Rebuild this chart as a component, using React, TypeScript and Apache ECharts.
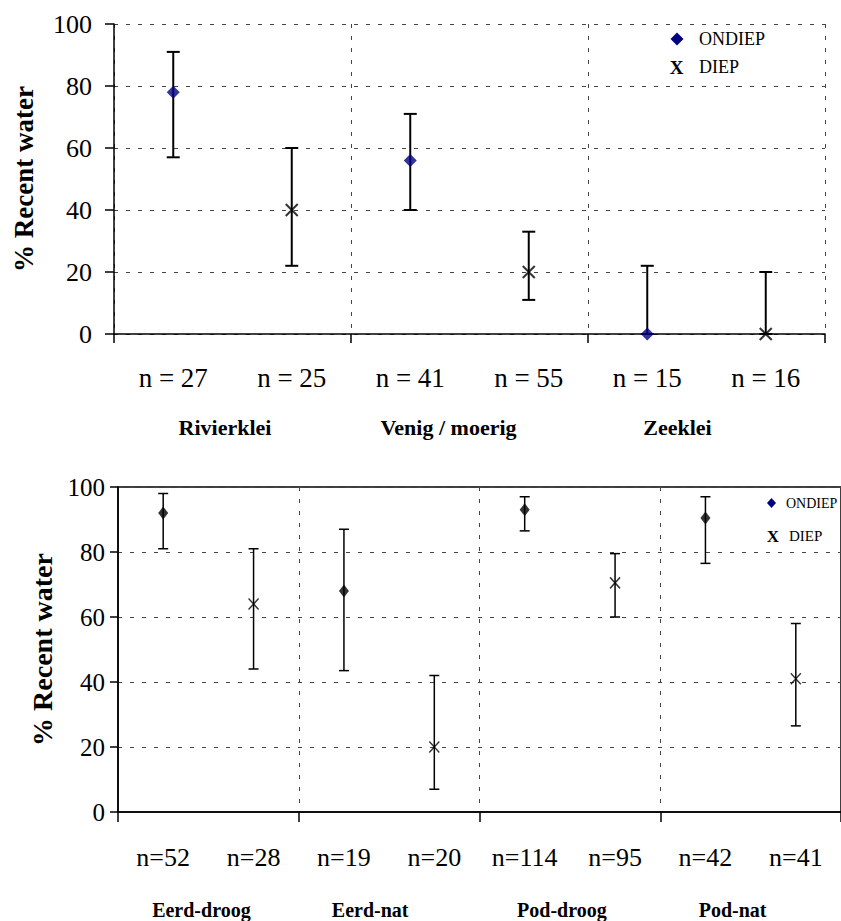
import React, { useEffect, useRef } from 'react';
import * as echarts from 'echarts';

// Upper panel: soil groups, shallow (ONDIEP) vs deep (DIEP) samples
const topGroups = ['Rivierklei', 'Venig / moerig', 'Zeeklei'];
const topCounts = ['n = 27', 'n = 25', 'n = 41', 'n = 55', 'n = 15', 'n = 16'];
const topOndiepMean = [78, 56, 0];
const topOndiepLow = [57, 40, 0];
const topOndiepHigh = [91, 71, 22];
const topDiepMean = [40, 20, 0];
const topDiepLow = [22, 11, 0];
const topDiepHigh = [60, 33, 20];

// Lower panel: Eerd / Pod soils, dry vs wet
const bottomGroups = ['Eerd-droog', 'Eerd-nat', 'Pod-droog', 'Pod-nat'];
const bottomCounts = ['n=52', 'n=28', 'n=19', 'n=20', 'n=114', 'n=95', 'n=42', 'n=41'];
const bottomOndiepMean = [92, 68, 93, 90.5];
const bottomOndiepLow = [81, 43.5, 86.5, 76.5];
const bottomOndiepHigh = [98, 87, 97, 97];
const bottomDiepMean = [64, 20, 70.5, 41];
const bottomDiepLow = [44, 7, 60, 26.5];
const bottomDiepHigh = [81, 42, 79.5, 58];

const yMin = 0;
const yMax = 100;
const yStep = 20;

const SERIF = 'Liberation Serif';
const NAVY = '#000080';
const X_PATH = 'path://M0,0L10,10M10,0L0,10';

// group captions sit a little left of their group centre
const topCaptionShift = [15, 42, 58];
const bottomCaptionShift = [14, 38, 16, 36];

// ONDIEP sits on the even categories, DIEP on the odd ones
const points = (counts: string[], means: number[], offset: number) =>
  means.map((m, i) => [counts[2 * i + offset], m]);
const ranges = (counts: string[], low: number[], high: number[], offset: number) =>
  low.map((lo, i) => [counts[2 * i + offset], lo, high[i]]);

const errorBars = (capHalf: number, width: number) => (params: any, api: any) => {
  const x = api.value(0);
  const lo = api.coord([x, api.value(1)]);
  const hi = api.coord([x, api.value(2)]);
  const style = { stroke: '#000', lineWidth: width };
  return {
    type: 'group',
    children: [
      { type: 'line', shape: { x1: lo[0], y1: lo[1], x2: hi[0], y2: hi[1] }, style },
      { type: 'line', shape: { x1: hi[0] - capHalf, y1: hi[1], x2: hi[0] + capHalf, y2: hi[1] }, style },
      { type: 'line', shape: { x1: lo[0] - capHalf, y1: lo[1], x2: lo[0] + capHalf, y2: lo[1] }, style },
    ],
  };
};

const dashed = { color: '#444', type: [4, 8] as any, width: 1 };

function countAxis(gridIndex: number, data: string[], margin: number, fontSize: number) {
  return {
    gridIndex,
    type: 'category',
    position: 'bottom',
    data,
    boundaryGap: true,
    axisLine: { show: false },
    axisTick: { show: false },
    splitLine: { show: false },
    axisLabel: { interval: 0, margin, fontSize, color: '#000', fontFamily: SERIF },
  };
}

function groupAxis(
  gridIndex: number,
  data: string[],
  shifts: number[],
  margin: number,
  fontSize: number,
  tickLen: number,
) {
  return {
    gridIndex,
    type: 'category',
    position: 'bottom',
    data: data.map((g, i) => ({ value: g, textStyle: { padding: [0, shifts[i], 0, 0] } })),
    boundaryGap: true,
    axisLine: { show: true, onZero: false, lineStyle: { color: '#000', width: 1.5 } },
    axisTick: { show: true, length: tickLen, lineStyle: { color: '#000', width: 1.5 } },
    splitLine: { show: true, lineStyle: dashed },
    axisLabel: {
      interval: 0,
      margin,
      fontSize,
      fontWeight: 'bold',
      color: '#000',
      fontFamily: SERIF,
    },
  };
}

function valueAxis(gridIndex: number, labelMargin: number, labelSize: number, nameGap: number, nameSize: number, tickLen: number) {
  return {
    gridIndex,
    type: 'value',
    min: yMin,
    max: yMax,
    interval: yStep,
    name: '% Recent water',
    nameLocation: 'middle',
    nameGap,
    nameTextStyle: { fontSize: nameSize, fontWeight: 'bold', color: '#000', fontFamily: SERIF },
    axisLine: { show: true, lineStyle: { color: '#000', width: 1.5 } },
    axisTick: { show: true, length: tickLen, lineStyle: { color: '#000', width: 1.5 } },
    splitLine: { show: true, lineStyle: dashed },
    axisLabel: { margin: labelMargin, fontSize: labelSize, color: '#000', fontFamily: SERIF },
  };
}

export default function App() {
  const ref = useRef<HTMLDivElement>(null);

  useEffect(() => {
    if (!ref.current) return;
    const chart = echarts.init(ref.current, undefined, { renderer: 'svg' });

    chart.setOption({
      animation: false,
      backgroundColor: '#fff',
      textStyle: { fontFamily: SERIF },
      grid: [
        { left: 114, top: 24, width: 711, height: 310 },
        {
          left: 118,
          top: 487,
          width: 731,
          height: 325,
          show: true,
          borderColor: '#000',
          borderWidth: 1.5,
          backgroundColor: 'transparent',
        },
      ],
      xAxis: [
        countAxis(0, topCounts, 30, 27),
        groupAxis(0, topGroups, topCaptionShift, 82, 22, 9),
        countAxis(1, bottomCounts, 32, 26),
        groupAxis(1, bottomGroups, bottomCaptionShift, 88, 20, 10),
      ],
      yAxis: [valueAxis(0, 22, 26, 77, 27, 9), valueAxis(1, 13, 25, 54, 28, 8)],
      series: [
        {
          type: 'custom',
          xAxisIndex: 0,
          yAxisIndex: 0,
          renderItem: errorBars(6.5, 2),
          encode: { x: 0, y: [1, 2] },
          data: [
            ...ranges(topCounts, topOndiepLow, topOndiepHigh, 0),
            ...ranges(topCounts, topDiepLow, topDiepHigh, 1),
          ],
          z: 3,
        },
        {
          name: 'ONDIEP',
          type: 'scatter',
          xAxisIndex: 0,
          yAxisIndex: 0,
          symbol: 'diamond',
          symbolSize: [13, 13],
          itemStyle: { color: NAVY },
          data: points(topCounts, topOndiepMean, 0),
          z: 5,
        },
        {
          name: 'DIEP',
          type: 'scatter',
          xAxisIndex: 0,
          yAxisIndex: 0,
          symbol: X_PATH,
          symbolSize: [12, 12],
          itemStyle: { color: 'none', borderColor: '#000', borderWidth: 2 },
          data: points(topCounts, topDiepMean, 1),
          z: 5,
        },
        {
          type: 'custom',
          xAxisIndex: 2,
          yAxisIndex: 1,
          renderItem: errorBars(5, 1.5),
          encode: { x: 0, y: [1, 2] },
          data: [
            ...ranges(bottomCounts, bottomOndiepLow, bottomOndiepHigh, 0),
            ...ranges(bottomCounts, bottomDiepLow, bottomDiepHigh, 1),
          ],
          z: 3,
        },
        {
          name: 'ONDIEP',
          type: 'scatter',
          xAxisIndex: 2,
          yAxisIndex: 1,
          symbol: 'diamond',
          symbolSize: [10, 13],
          itemStyle: { color: '#000' },
          data: points(bottomCounts, bottomOndiepMean, 0),
          z: 5,
        },
        {
          name: 'DIEP',
          type: 'scatter',
          xAxisIndex: 2,
          yAxisIndex: 1,
          symbol: X_PATH,
          symbolSize: [10, 11],
          itemStyle: { color: 'none', borderColor: '#000', borderWidth: 1.5 },
          data: points(bottomCounts, bottomDiepMean, 1),
          z: 5,
        },
      ],
      graphic: [
        // legend, upper panel
        { type: 'polygon', shape: { points: [[677, 32.5], [683.5, 39], [677, 45.5], [670.5, 39]] }, style: { fill: NAVY }, z: 10 },
        { type: 'text', x: 699, y: 39, style: { text: 'ONDIEP', fontSize: 18, fontFamily: SERIF, fill: '#000', verticalAlign: 'middle', align: 'left' }, z: 10 },
        { type: 'text', x: 676.5, y: 67, style: { text: 'X', fontSize: 19, fontWeight: 'bold', fontFamily: SERIF, fill: '#000', verticalAlign: 'middle', align: 'center' }, z: 10 },
        { type: 'text', x: 699, y: 67, style: { text: 'DIEP', fontSize: 18, fontFamily: SERIF, fill: '#000', verticalAlign: 'middle', align: 'left' }, z: 10 },
        // legend, lower panel
        { type: 'polygon', shape: { points: [[771.5, 498], [776, 503], [771.5, 508], [767, 503]] }, style: { fill: NAVY }, z: 10 },
        { type: 'text', x: 786, y: 503, style: { text: 'ONDIEP', fontSize: 14, fontFamily: SERIF, fill: '#000', verticalAlign: 'middle', align: 'left' }, z: 10 },
        { type: 'text', x: 773, y: 536, style: { text: 'X', fontSize: 17, fontWeight: 'bold', fontFamily: SERIF, fill: '#000', verticalAlign: 'middle', align: 'center' }, z: 10 },
        { type: 'text', x: 789, y: 536, style: { text: 'DIEP', fontSize: 15, fontFamily: SERIF, fill: '#000', verticalAlign: 'middle', align: 'left' }, z: 10 },
      ],
    });

    return () => chart.dispose();
  }, []);

  return (
    <div
      ref={ref}
      style={{ position: 'absolute', left: 0, top: 0, width: 841, height: 921, background: '#fff' }}
    />
  );
}
